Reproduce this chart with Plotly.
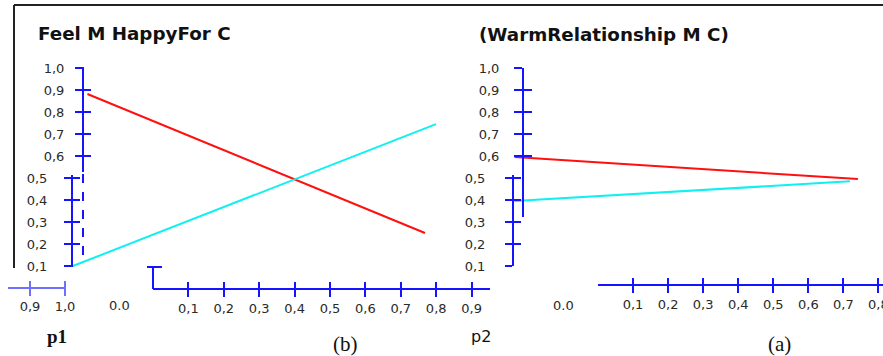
import plotly.graph_objects as go

W, H = 883, 356

# ---------------- data ----------------
title_b = "Feel M HappyFor C"
title_a = "(WarmRelationship M C)"

y_upper_vals = [0.6, 0.7, 0.8, 0.9, 1.0]
y_upper_text = ["0,6", "0,7", "0,8", "0,9", "1,0"]
y_lower_vals = [0.1, 0.2, 0.3, 0.4, 0.5]
y_lower_text = ["0,1", "0,2", "0,3", "0,4", "0,5"]
y_upper_vals_a = [0.6, 0.7, 0.8, 0.9, 1.0]
y_upper_text_a = ["0,6", "0,7", "0,8", "0,9", "1,0"]

x_vals_b = [0.1, 0.2, 0.3, 0.4, 0.5, 0.6, 0.7, 0.8, 0.9]
x_text_b = ["0,1", "0,2", "0,3", "0,4", "0,5", "0,6", "0,7", "0,8", "0,9"]
x_vals_a = [0.1, 0.2, 0.3, 0.4, 0.5, 0.6, 0.7, 0.8]
x_text_a = ["0,1", "0,2", "0,3", "0,4", "0,5", "0,6", "0,7", "0,8"]
x_frag_vals = [0.9, 1.0]
x_frag_text = ["0,9", "1,0"]

# panel (b) - left
b_red_x = [0.01, 0.775]
b_red_y = [0.882, 0.25]
b_cyan_x = [-0.023, 0.80]
b_cyan_y = [0.10, 0.745]
# panel (a) - right
a_red_x = [-0.01, 0.768]
a_red_y = [0.595, 0.495]
a_cyan_x = [-0.01, 0.75]
a_cyan_y = [0.395, 0.485]

# ---------------- helpers ----------------
BLUE = "#1414ff"
TXT = "#2a2a2a"
TICKFONT = dict(family="DejaVu Sans", size=13, color=TXT)


def fx(px):
    return px / W


def fy(py):
    return 1 - py / H


def val(py):
    return 0.1 + (266 - py) / 220.0


layout_axes = {}
counter = {"x": 0, "y": 0}
traces = []


def new_axis(letter, **kw):
    counter[letter] += 1
    n = counter[letter]
    suffix = "" if n == 1 else str(n)
    base = dict(showgrid=False, zeroline=False, automargin=False, fixedrange=True)
    base.update(kw)
    layout_axes[letter + "axis" + suffix] = base
    return letter + suffix


def dummy(xr, yr):
    traces.append(go.Scatter(x=[None], y=[None], xaxis=xr, yaxis=yr,
                             showlegend=False, hoverinfo="skip", mode="lines"))


def yaxis_cross(xref, px, top, bottom, vals, text, ticklen=7, standoff=10, labels=True):
    common = dict(domain=[fy(bottom), fy(top)], range=[val(bottom), val(top)],
                  anchor="free", position=fx(px), side="left",
                  tickvals=vals, ticklen=ticklen, tickwidth=2, tickcolor=BLUE)
    r1 = new_axis("y", showline=True, linecolor=BLUE, linewidth=2, ticks="outside",
                  ticktext=text, showticklabels=labels, tickfont=TICKFONT,
                  ticklabelstandoff=standoff, ticklabeloverflow="allow", **common)
    dummy(xref, r1)
    r2 = new_axis("y", showline=False, ticks="inside", showticklabels=False, **common)
    dummy(xref, r2)


def xaxis_cross(yref, py, left, right, rng, vals, text, color=BLUE, ticklen=7, lw=2):
    common = dict(domain=[fx(left), fx(right)], range=rng, anchor="free",
                  position=fy(py), side="bottom", tickvals=vals, ticklen=ticklen,
                  tickwidth=2, tickcolor=color)
    r1 = new_axis("x", showline=True, linecolor=color, linewidth=lw, ticks="outside",
                  ticktext=text, tickfont=TICKFONT, ticklabeloverflow="allow", **common)
    dummy(r1, yref)
    r2 = new_axis("x", showline=False, ticks="inside", showticklabels=False, **common)
    dummy(r2, yref)


# ---------------- hidden axes carrying the lines ----------------
S = 441.25  # px per unit of the hidden line axes
xb = new_axis("x", domain=[fx(60), fx(490)], range=[(60 - 83) / S, (490 - 83) / S],
              visible=False, anchor="free", position=0)
yb = new_axis("y", domain=[fy(270), fy(60)], range=[val(270), val(60)],
              visible=False, anchor="free", position=0)
xa = new_axis("x", domain=[fx(500), fx(883)], range=[(500 - 519) / S, (883 - 519) / S],
              visible=False, anchor="free", position=0)
ya = new_axis("y", domain=[fy(270), fy(60)], range=[val(270), val(60)],
              visible=False, anchor="free", position=0)

traces.append(go.Scatter(x=b_red_x, y=b_red_y, xaxis=xb, yaxis=yb, mode="lines",
                         line=dict(color="#ff1010", width=2), showlegend=False))
traces.append(go.Scatter(x=b_cyan_x, y=b_cyan_y, xaxis=xb, yaxis=yb, mode="lines",
                         line=dict(color="#10f0f0", width=2), showlegend=False))
traces.append(go.Scatter(x=a_red_x, y=a_red_y, xaxis=xa, yaxis=ya, mode="lines",
                         line=dict(color="#ff1010", width=2), showlegend=False))
traces.append(go.Scatter(x=a_cyan_x, y=a_cyan_y, xaxis=xa, yaxis=ya, mode="lines",
                         line=dict(color="#10f0f0", width=2), showlegend=False))

# ---------------- visible axes ----------------
# left panel (b)
yaxis_cross(xb, 83, 67, 172, y_upper_vals, y_upper_text, standoff=8)
yaxis_cross(xb, 72, 175, 267, y_lower_vals, y_lower_text, standoff=14)
xaxis_cross(yb, 289, 153, 490, [0, (490 - 153) / 354.0], x_vals_b, x_text_b)
xaxis_cross(yb, 288, 8, 66, [0.9 - 22 / 350.0, 1.0 + 1 / 350.0], x_frag_vals, x_frag_text,
            color="#7070ff", lw=1.5)
# right panel (a)
yaxis_cross(xa, 523, 68, 217, y_upper_vals_a, y_upper_text_a, ticklen=8, standoff=12)
yaxis_cross(xa, 513, 175, 266, y_lower_vals, y_lower_text, standoff=17)
xaxis_cross(ya, 285, 598, 883, [0, (884 - 597) / 353.0], x_vals_a, x_text_a)

fig = go.Figure(data=traces)
fig.update_layout(**layout_axes)

# ---------------- text ----------------
ann = []


def text(px, py, s, font, xanchor="center"):
    ann.append(dict(x=fx(px), y=fy(py), xref="paper", yref="paper", text=s,
                    showarrow=False, xanchor=xanchor, yanchor="middle", font=font))


TITLEFONT = dict(family="DejaVu Sans", size=18.3, color="#111111")
text(36, 33, "<b>" + title_b + "</b>", TITLEFONT, "left")
text(477, 35, "<b>" + title_a + "</b>", TITLEFONT, "left")
text(120, 305, "0.0", TICKFONT)
text(563, 305, "0.0", TICKFONT)
text(57, 336, "<b>p1</b>", dict(family="Liberation Serif", size=19, color="#111111"))
text(345, 344, "(b)", dict(family="Liberation Serif", size=21, color="#111111"))
text(481, 336, "p2", dict(family="DejaVu Sans", size=16, color="#111111"))
text(779, 344, "(a)", dict(family="Liberation Serif", size=21, color="#111111"))

# ---------------- decorative frame / fragments ----------------
shapes = [
    dict(type="line", xref="paper", yref="paper", x0=fx(14), x1=fx(883), y0=fy(5), y1=fy(5),
         line=dict(color="#222222", width=2)),
    dict(type="line", xref="paper", yref="paper", x0=fx(14), x1=fx(14), y0=fy(5), y1=fy(268),
         line=dict(color="#222222", width=2)),
    dict(type="line", xref="paper", yref="paper", x0=fx(83), x1=fx(83), y0=fy(174), y1=fy(262),
         line=dict(color=BLUE, width=2, dash="dash")),
    dict(type="line", xref="paper", yref="paper", x0=fx(153), x1=fx(153), y0=fy(267), y1=fy(289),
         line=dict(color=BLUE, width=2)),
    dict(type="line", xref="paper", yref="paper", x0=fx(147), x1=fx(162), y0=fy(267), y1=fy(267),
         line=dict(color=BLUE, width=2)),
]

fig.update_layout(
    template="none",
    width=W, height=H,
    margin=dict(l=0, r=0, t=0, b=0),
    paper_bgcolor="white",
    plot_bgcolor="rgba(0,0,0,0)",
    showlegend=False,
    annotations=ann,
    shapes=shapes,
)

fig.write_html("out.html", config={"displayModeBar": False},
               post_script="document.body.style.margin='0';document.body.style.overflow='hidden';")
